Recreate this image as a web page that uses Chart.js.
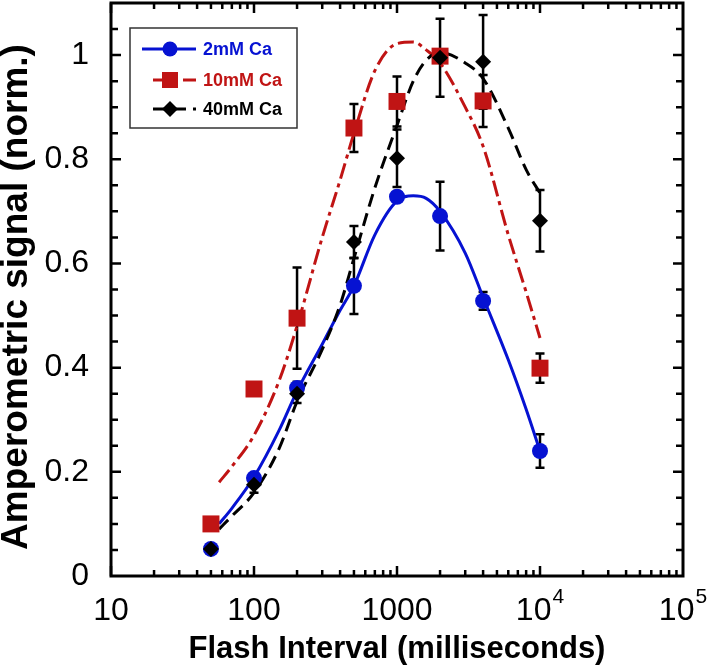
<!DOCTYPE html>
<html>
<head>
<meta charset="utf-8">
<script src="https://cdn.jsdelivr.net/npm/chart.js@4.4.1/dist/chart.umd.min.js"></script>
<style>
  html, body { margin: 0; padding: 0; background: #fff; }
  canvas { display: block; }
</style>
</head>
<body>
<canvas id="myChart" width="709" height="670"></canvas>
<script>
// measured points (flash interval in ms)
var intervals = [50, 100, 200, 500, 1000, 2000, 4000, 10000];
var ca2 = [0.052, 0.188, 0.361, 0.557, 0.728, 0.691, 0.528, 0.240];
var ca2Err = [0, 0.008, 0.012, 0.054, 0.008, 0.066, 0.017, 0.032];
var ca10 = [0.100, 0.359, 0.495, 0.860, 0.911, 0.998, 0.912, 0.399];
var ca10Err = [0, 0, 0.097, 0.046, 0.048, 0, 0.050, 0.028];
var ca40 = [0.052, 0.175, 0.350, 0.641, 0.802, 0.995, 0.987, 0.682];
var ca40Err = [0, 0.015, 0.018, 0.031, 0.055, 0.075, 0.090, 0.059];

// fitted curves
var fitX = [57, 70, 100, 150, 200, 300, 400, 500, 700, 1000, 1300, 1600, 2000, 3000, 4000, 6000, 8000, 10000];
var fit2 = [0.10, 0.13, 0.19, 0.28, 0.355, 0.445, 0.51, 0.557, 0.655, 0.72, 0.73, 0.725, 0.70, 0.62, 0.535, 0.415, 0.32, 0.24];
var fit10 = [0.18, 0.21, 0.27, 0.375, 0.48, 0.65, 0.76, 0.85, 0.97, 1.022, 1.025, 1.01, 0.985, 0.90, 0.825, 0.655, 0.545, 0.457];
var fit40 = [0.09, 0.115, 0.16, 0.245, 0.335, 0.435, 0.52, 0.61, 0.745, 0.865, 0.95, 0.99, 1.005, 0.985, 0.955, 0.86, 0.78, 0.735];

var xTickValues = [10, 100, 1000, 10000, 100000];
var xTickLabels = [['10', ''], ['100', ''], ['1000', ''], ['10', '4'], ['10', '5']];
var legendLabels = ['2mM Ca', '10mM Ca', '40mM Ca'];

var BLUE = '#0612d2';
var RED = '#c01414';
var BLACK = '#000000';
var FONT = "'Liberation Sans', Arial, Helvetica, sans-serif";

function pts(xs, ys) {
    return xs.map(function (x, i) { return { x: x, y: ys[i] }; });
}

// error bars, drawn under the markers
var errorBars = {
    id: 'errorBars',
    beforeDatasetsDraw: function (chart) {
        var ctx = chart.ctx;
        var xs = chart.scales.x, ys = chart.scales.y;
        var sets = [[ca2, ca2Err], [ca10, ca10Err], [ca40, ca40Err]];
        ctx.save();
        ctx.strokeStyle = '#000';
        ctx.lineWidth = 2.5;
        sets.forEach(function (s) {
            intervals.forEach(function (xv, i) {
                var e = s[1][i];
                if (!e) return;
                var px = xs.getPixelForValue(xv);
                var top = ys.getPixelForValue(s[0][i] + e);
                var bot = ys.getPixelForValue(s[0][i] - e);
                ctx.beginPath();
                ctx.moveTo(px, top); ctx.lineTo(px, bot);
                ctx.moveTo(px - 4.5, top); ctx.lineTo(px + 4.5, top);
                ctx.moveTo(px - 4.5, bot); ctx.lineTo(px + 4.5, bot);
                ctx.stroke();
            });
        });
        ctx.restore();
    }
};

// frame, inward ticks, x labels, y title and legend
var frame = {
    id: 'frame',
    afterDraw: function (chart) {
        var ctx = chart.ctx;
        var a = chart.chartArea;
        var xs = chart.scales.x, ys = chart.scales.y;
        ctx.save();
        ctx.strokeStyle = '#000';
        ctx.lineWidth = 3;
        ctx.strokeRect(a.left, a.top, a.right - a.left, a.bottom - a.top);

        ctx.lineWidth = 2.5;
        ctx.beginPath();
        for (var d = 1; d < 5; d++) {
            for (var m = 1; m <= 9; m++) {
                var v = m * Math.pow(10, d);
                var px = xs.getPixelForValue(v);
                var len = m === 1 ? 10 : 6;
                ctx.moveTo(px, a.bottom); ctx.lineTo(px, a.bottom - len);
                ctx.moveTo(px, a.top); ctx.lineTo(px, a.top + len);
            }
        }
        for (var k = 1; k <= 21; k++) {
            var py = ys.getPixelForValue(k * 0.05);
            var l = (k % 4 === 0) ? 10 : 7;
            ctx.moveTo(a.left, py); ctx.lineTo(a.left + l, py);
            ctx.moveTo(a.right, py); ctx.lineTo(a.right - l, py);
        }
        ctx.stroke();

        // x tick labels with superscripts
        ctx.fillStyle = '#000';
        ctx.textBaseline = 'alphabetic';
        ctx.textAlign = 'left';
        xTickValues.forEach(function (v, i) {
            var base = xTickLabels[i][0], sup = xTickLabels[i][1];
            ctx.font = '32px ' + FONT;
            var w1 = ctx.measureText(base).width;
            ctx.font = '21px ' + FONT;
            var w2 = sup ? ctx.measureText(sup).width + 1 : 0;
            var x0 = xs.getPixelForValue(v) - (w1 + w2) / 2;
            ctx.font = '32px ' + FONT;
            ctx.fillText(base, x0, 620);
            if (sup) {
                ctx.font = '21px ' + FONT;
                ctx.fillText(sup, x0 + w1 + 1, 603);
            }
        });

        // y axis title
        ctx.save();
        ctx.translate(17, 297);
        ctx.rotate(-Math.PI / 2);
        ctx.font = 'bold 37px ' + FONT;
        ctx.textAlign = 'center';
        ctx.textBaseline = 'middle';
        ctx.fillText('Amperometric signal (norm.)', 0, 0);
        ctx.restore();

        // legend box
        ctx.lineWidth = 1.5;
        ctx.strokeStyle = '#333';
        ctx.strokeRect(130, 28, 167, 100);
        var rows = [49, 80, 109];
        var colors = [BLUE, RED, BLACK];
        var dashes = [[], [16, 5, 4, 5], [13, 7]];
        rows.forEach(function (y, i) {
            ctx.strokeStyle = colors[i];
            ctx.fillStyle = colors[i];
            ctx.lineWidth = 3;
            ctx.setLineDash(dashes[i]);
            ctx.beginPath();
            ctx.moveTo(i === 0 ? 142 : 153, y);
            ctx.lineTo(196, y);
            ctx.stroke();
            ctx.setLineDash([]);
            ctx.beginPath();
            if (i === 0) {
                ctx.arc(170, y, 7.5, 0, Math.PI * 2);
            } else if (i === 1) {
                ctx.rect(162, y - 8, 16, 16);
            } else {
                ctx.moveTo(170, y - 8); ctx.lineTo(178, y); ctx.lineTo(170, y + 8); ctx.lineTo(162, y);
                ctx.closePath();
            }
            ctx.fill();
            ctx.font = 'bold 18px ' + FONT;
            ctx.textAlign = 'left';
            ctx.textBaseline = 'middle';
            ctx.fillText(legendLabels[i], 203, y + 1);
        });
        ctx.restore();
    }
};

var ctx = document.getElementById('myChart').getContext('2d');

var myChart = new Chart(ctx, {
    type: 'scatter',
    data: {
        datasets: [
            { label: '40mM Ca', data: pts(intervals, ca40), pointStyle: 'rectRot', pointRadius: 8,
              backgroundColor: BLACK, borderWidth: 0, order: 0 },
            { label: '10mM Ca', data: pts(intervals, ca10), pointStyle: 'rect', pointRadius: 12,
              backgroundColor: RED, borderWidth: 0, order: 1 },
            { label: '2mM Ca', data: pts(intervals, ca2), pointStyle: 'circle', pointRadius: 8,
              backgroundColor: BLUE, borderWidth: 0, order: 2 },
            { type: 'line', label: 'fit 40', data: pts(fitX, fit40), borderColor: BLACK, borderWidth: 3,
              borderDash: [13, 7], pointRadius: 0, cubicInterpolationMode: 'monotone', fill: false, order: 3 },
            { type: 'line', label: 'fit 10', data: pts(fitX, fit10), borderColor: RED, borderWidth: 3,
              borderDash: [16, 5, 4, 5], pointRadius: 0, cubicInterpolationMode: 'monotone', fill: false, order: 4 },
            { type: 'line', label: 'fit 2', data: pts(fitX, fit2), borderColor: BLUE, borderWidth: 3,
              pointRadius: 0, cubicInterpolationMode: 'monotone', fill: false, order: 5 }
        ]
    },
    options: {
        responsive: false,
        animation: false,
        layout: { autoPadding: false, padding: { top: 3, right: 26, left: 0, bottom: 0 } },
        plugins: {
            legend: { display: false },
            tooltip: { enabled: false }
        },
        scales: {
            x: {
                type: 'logarithmic',
                min: 10,
                max: 100000,
                grid: { display: false, drawTicks: false },
                border: { display: false },
                ticks: { display: false },
                title: {
                    display: true,
                    text: 'Flash Interval (milliseconds)',
                    color: '#000',
                    font: { family: FONT, size: 31, weight: 'bold' },
                    padding: { top: 0, bottom: 2 }
                },
                afterFit: function (s) {
                    s.height = 94;
                    s.paddingLeft = 0; s.paddingRight = 0;
                }
            },
            y: {
                min: 0,
                max: 1.1,
                grid: { display: false, drawTicks: false },
                border: { display: false },
                ticks: {
                    stepSize: 0.2,
                    padding: 22,
                    color: '#000',
                    font: { family: FONT, size: 32 },
                    callback: function (v) { return String(Math.round(v * 10) / 10); }
                },
                afterBuildTicks: function (s) {
                    s.ticks = s.ticks.filter(function (t) {
                        return Math.abs(t.value * 5 - Math.round(t.value * 5)) < 1e-6;
                    });
                },
                afterFit: function (s) {
                    s.width = 111;
                    s.paddingTop = 0; s.paddingBottom = 0;
                }
            }
        }
    },
    plugins: [errorBars, frame]
});
</script>
</body>
</html>
